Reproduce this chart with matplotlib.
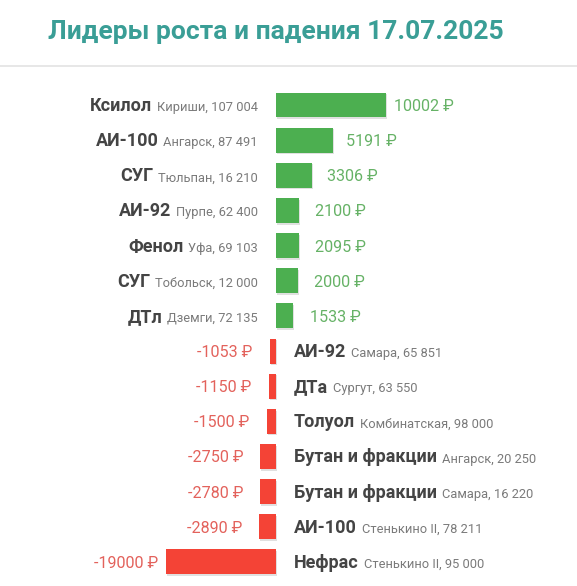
import numpy as np
import matplotlib.pyplot as plt
import matplotlib.patheffects as pe

plt.rcParams['font.family'] = ['Roboto', 'DejaVu Sans']

title = 'Лидеры роста и падения 17.07.2025'

up_names = ['Ксилол', 'АИ-100', 'СУГ', 'АИ-92', 'Фенол', 'СУГ', 'ДТл']
up_places = ['Кириши, 107 004', 'Ангарск, 87 491', 'Тюльпан, 16 210', 'Пурпе, 62 400',
             'Уфа, 69 103', 'Тобольск, 12 000', 'Дземги, 72 135']
up_values = [10002, 5191, 3306, 2100, 2095, 2000, 1533]

down_names = ['АИ-92', 'ДТа', 'Толуол', 'Бутан и фракции', 'Бутан и фракции', 'АИ-100', 'Нефрас']
down_places = ['Самара, 65 851', 'Сургут, 63 550', 'Комбинатская, 98 000', 'Ангарск, 20 250',
               'Самара, 16 220', 'Стенькино II, 78 211', 'Стенькино II, 95 000']
down_values = [-1053, -1150, -1500, -2750, -2780, -2890, -19000]

green = '#4caf50'
red = '#f44336'
green_txt = '#66b266'
red_txt = '#e3625c'
dark = '#444444'
grey = '#7a7a7a'

W, H = 577, 586
fig = plt.figure(figsize=(W / 100, H / 100), dpi=100)
ax = fig.add_axes([0, 0, 1, 1])
ax.axis('off')

px = 0.72  # points per pixel
# each side scaled to its own max, 1 unit = 110 px
ax.set_xlim(-276 / 110, (W - 276) / 110)
row = 35.15
ax.set_ylim((H - 105) / row, -105 / row)

shadow = [pe.SimplePatchShadow(offset=(0.6, -1.2), shadow_rgbFace='black', alpha=0.12), pe.Normal()]

n_up = len(up_values)
up_norm = np.array(up_values) / max(up_values)
y_up = np.arange(n_up)
bars = ax.barh(y_up, up_norm, height=0.71, color=green)
for b in bars:
    b.set_path_effects(shadow)

down_norm = np.array(down_values) / abs(min(down_values))
y_down = np.arange(n_up, n_up + len(down_values))
bars = ax.barh(y_down, down_norm, height=0.71, color=red)
for b in bars:
    b.set_path_effects(shadow)

base = -6 * px

for i, (nm, pl, v, n) in enumerate(zip(up_names, up_places, up_values, up_norm)):
    sub = ax.annotate(pl, xy=(0, i), xytext=(-18 * px, base), textcoords='offset points',
                      ha='right', va='baseline', fontsize=9.3, color=grey)
    ax.annotate(nm, xy=(0, i), xycoords=(sub, 'data'), xytext=(-5 * px, base), textcoords='offset points',
                ha='right', va='baseline', fontsize=13, fontweight='bold', color=dark)
    ax.annotate(f'{v} ₽', xy=(0.9 * n, i), xytext=(18.5 * px, base), textcoords='offset points',
                ha='left', va='baseline', fontsize=11.6, color=green_txt)

for i, nm, pl, v, n in zip(y_down, down_names, down_places, down_values, down_norm):
    nm_t = ax.annotate(nm, xy=(0, i), xytext=(18 * px, base), textcoords='offset points',
                       ha='left', va='baseline', fontsize=13, fontweight='bold', color=dark)
    ax.annotate(pl, xy=(1, i), xycoords=(nm_t, 'data'), xytext=(5 * px, base), textcoords='offset points',
                ha='left', va='baseline', fontsize=9.3, color=grey)
    ax.annotate(f'{v} ₽', xy=(0.9 * n, i), xytext=(-18.5 * px, base), textcoords='offset points',
                ha='right', va='baseline', fontsize=11.6, color=red_txt)

fig.text(275.5 / W, 1 - 32 / H, title, ha='center', va='center', fontsize=19,
         fontweight='bold', color='#3a9e96')
fig.add_artist(plt.Line2D([0, 1], [1 - 66 / H, 1 - 66 / H], color='#e3e3e3', lw=1.2))

fig.savefig('out.png', dpi=100, facecolor='white')
